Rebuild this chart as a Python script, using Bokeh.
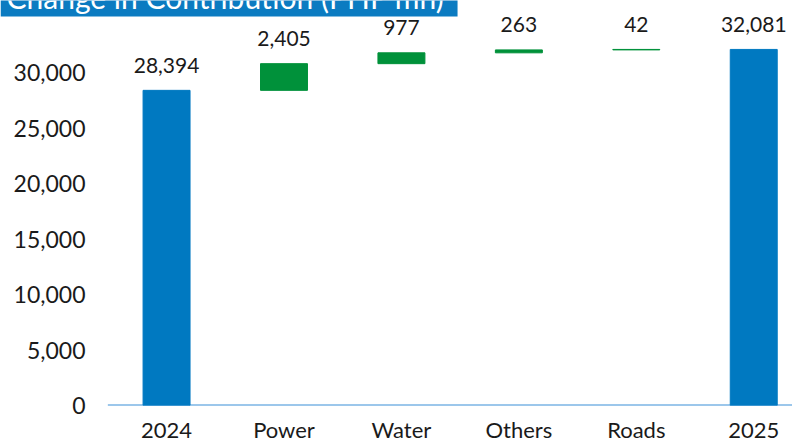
from bokeh.plotting import figure
from bokeh.models import Range1d, FixedTicker, NumeralTickFormatter, ColumnDataSource, Label
from bokeh.core.properties import value
from bokeh.embed import file_html
from bokeh.resources import INLINE

categories = ["2024", "Power", "Water", "Others", "Roads", "2025"]
values = [28394, 2405, 977, 263, 42, 32081]
is_total = [True, False, False, False, False, True]
label_texts = ["28,394", "2,405", "977", "263", "42", "32,081"]
y_ticks = [0, 5000, 10000, 15000, 20000, 25000, 30000]
title_text = "Change in Contribution (PHP mn)"

BLUE = "#0079c1"
GREEN = "#00913a"

# waterfall bottoms/tops
bottoms, tops, colors = [], [], []
running = 0
for v, tot in zip(values, is_total):
    if tot:
        bottoms.append(0)
        tops.append(v)
        running = v
        colors.append(BLUE)
    else:
        bottoms.append(running)
        running += v
        tops.append(running)
        colors.append(GREEN)

xs = list(range(len(categories)))
src = ColumnDataSource(dict(x=xs, bottom=bottoms, top=tops, color=colors, label=label_texts))

X_START, X_END = -1.414, 5.33
p = figure(width=792, height=445, output_backend="svg", toolbar_location=None,
           x_range=Range1d(X_START, X_END), y_range=Range1d(0, 36490),
           min_border_left=0, min_border_right=0, min_border_top=0, min_border_bottom=40)
p.outline_line_color = None
p.xgrid.visible = False
p.ygrid.visible = False
p.background_fill_color = "white"
p.border_fill_color = "white"

# baseline starting at the left edge of the first category band
p.segment(x0=[xs[0] - 0.5], y0=[0], x1=[X_END], y1=[0], line_color="#3a8fd8", line_width=2.2)

p.vbar(x="x", bottom="bottom", top="top", width=0.4, fill_color="color", line_color="color",
       line_width=1, source=src)
p.text(x="x", y="top", text="label", source=src, text_align="center", text_baseline="alphabetic",
       y_offset=-25, text_font=value("Lato"), text_font_size="21px", text_color="#1a1a1a")

# x axis
p.xaxis.ticker = FixedTicker(ticks=xs)
p.xaxis.major_label_overrides = {i: c for i, c in enumerate(categories)}
p.xaxis.axis_line_color = None
p.xaxis.major_tick_line_color = None
p.xaxis.minor_tick_line_color = None
p.xaxis.major_tick_out = 0
p.xaxis.major_tick_in = 0
p.xaxis.major_label_standoff = 10
p.xaxis.major_label_text_font = "Lato"
p.xaxis.major_label_text_font_size = "22px"
p.xaxis.major_label_text_color = "#1a1a1a"

# y axis (labels drawn over the left part of the frame)
p.yaxis.ticker = FixedTicker(ticks=y_ticks)
p.yaxis.formatter = NumeralTickFormatter(format="0,0")
p.yaxis.axis_line_color = None
p.yaxis.major_tick_line_color = None
p.yaxis.minor_tick_line_color = None
p.yaxis.major_tick_out = 0
p.yaxis.major_tick_in = 0
p.yaxis.major_label_standoff = -85
p.yaxis.major_label_text_font = "Lato"
p.yaxis.major_label_text_font_size = "23px"
p.yaxis.major_label_text_color = "#1a1a1a"

# title banner (cropped at top in the reference)
banner = Label(x=0, y=16, x_units="canvas", y_units="canvas", text=title_text,
               text_color="white", text_font="Lato", text_font_size="30px",
               text_baseline="bottom", background_fill_color="#0b7bc1",
               padding=(6, 13, 6, 2), level="overlay")
p.add_layout(banner)

open("out.html", "w").write(file_html(p, INLINE))
